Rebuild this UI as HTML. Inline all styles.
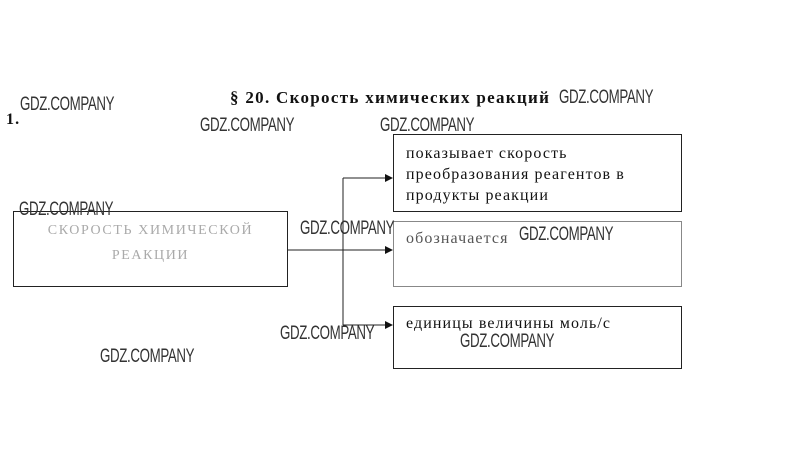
<!DOCTYPE html>
<html><head><meta charset="utf-8"><style>
body{margin:0;width:812px;height:472px;background:#fff;position:relative;overflow:hidden;font-family:"Liberation Serif",serif;color:#111}
.b{position:absolute;border:1px solid #222;box-sizing:border-box}
.t{position:absolute;font-size:16px;line-height:21px;letter-spacing:1.1px;white-space:nowrap}
.w{position:absolute;font-family:"Liberation Sans Narrow","Liberation Sans",sans-serif;font-size:19px;color:#333;transform:scaleX(0.7);transform-origin:0 0;white-space:nowrap;letter-spacing:-0.5px}
</style></head><body>
<div class="t" style="left:230px;top:87px;font-weight:bold;font-size:17px;letter-spacing:1.3px">§ 20. Скорость химических реакций</div>
<div class="t" style="left:6px;top:109px;font-weight:bold;font-size:16px">1.</div>
<div class="b" style="left:13px;top:211px;width:275px;height:76px"></div>
<div class="t" style="left:13px;top:218px;width:275px;text-align:center;color:#aaa;font-size:14px;line-height:25px;letter-spacing:1.6px">СКОРОСТЬ ХИМИЧЕСКОЙ<br>РЕАКЦИИ</div>
<div class="b" style="left:393px;top:134px;width:289px;height:78px"></div>
<div class="t" style="left:406px;top:143px">показывает скорость<br>преобразования реагентов в<br>продукты реакции</div>
<div class="b" style="left:393px;top:221px;width:289px;height:66px;border-color:#888"></div>
<div class="t" style="left:406px;top:228px;color:#555">обозначается</div>
<div class="b" style="left:393px;top:306px;width:289px;height:63px"></div>
<div class="t" style="left:406px;top:313px">единицы величины моль/с</div>
<svg style="position:absolute;left:0;top:0" width="812" height="472">
<g stroke="#222" stroke-width="1" fill="none">
<line x1="288" y1="250" x2="386" y2="250"/>
<line x1="343" y1="178" x2="343" y2="325"/>
<line x1="343" y1="178" x2="386" y2="178"/>
<line x1="343" y1="325" x2="386" y2="325"/>
</g>
<g fill="#111">
<polygon points="393,178 385,174 385,182"/>
<polygon points="393,250 385,246 385,254"/>
<polygon points="393,325 385,321 385,329"/>
</g>
</svg>
<div class="w" style="left:20px;top:94px">GDZ.COMPANY</div>
<div class="w" style="left:200px;top:115px">GDZ.COMPANY</div>
<div class="w" style="left:380px;top:115px">GDZ.COMPANY</div>
<div class="w" style="left:559px;top:87px">GDZ.COMPANY</div>
<div class="w" style="left:19px;top:199px">GDZ.COMPANY</div>
<div class="w" style="left:300px;top:218px">GDZ.COMPANY</div>
<div class="w" style="left:519px;top:224px">GDZ.COMPANY</div>
<div class="w" style="left:280px;top:323px">GDZ.COMPANY</div>
<div class="w" style="left:460px;top:331px">GDZ.COMPANY</div>
<div class="w" style="left:100px;top:346px">GDZ.COMPANY</div>
</body></html>
